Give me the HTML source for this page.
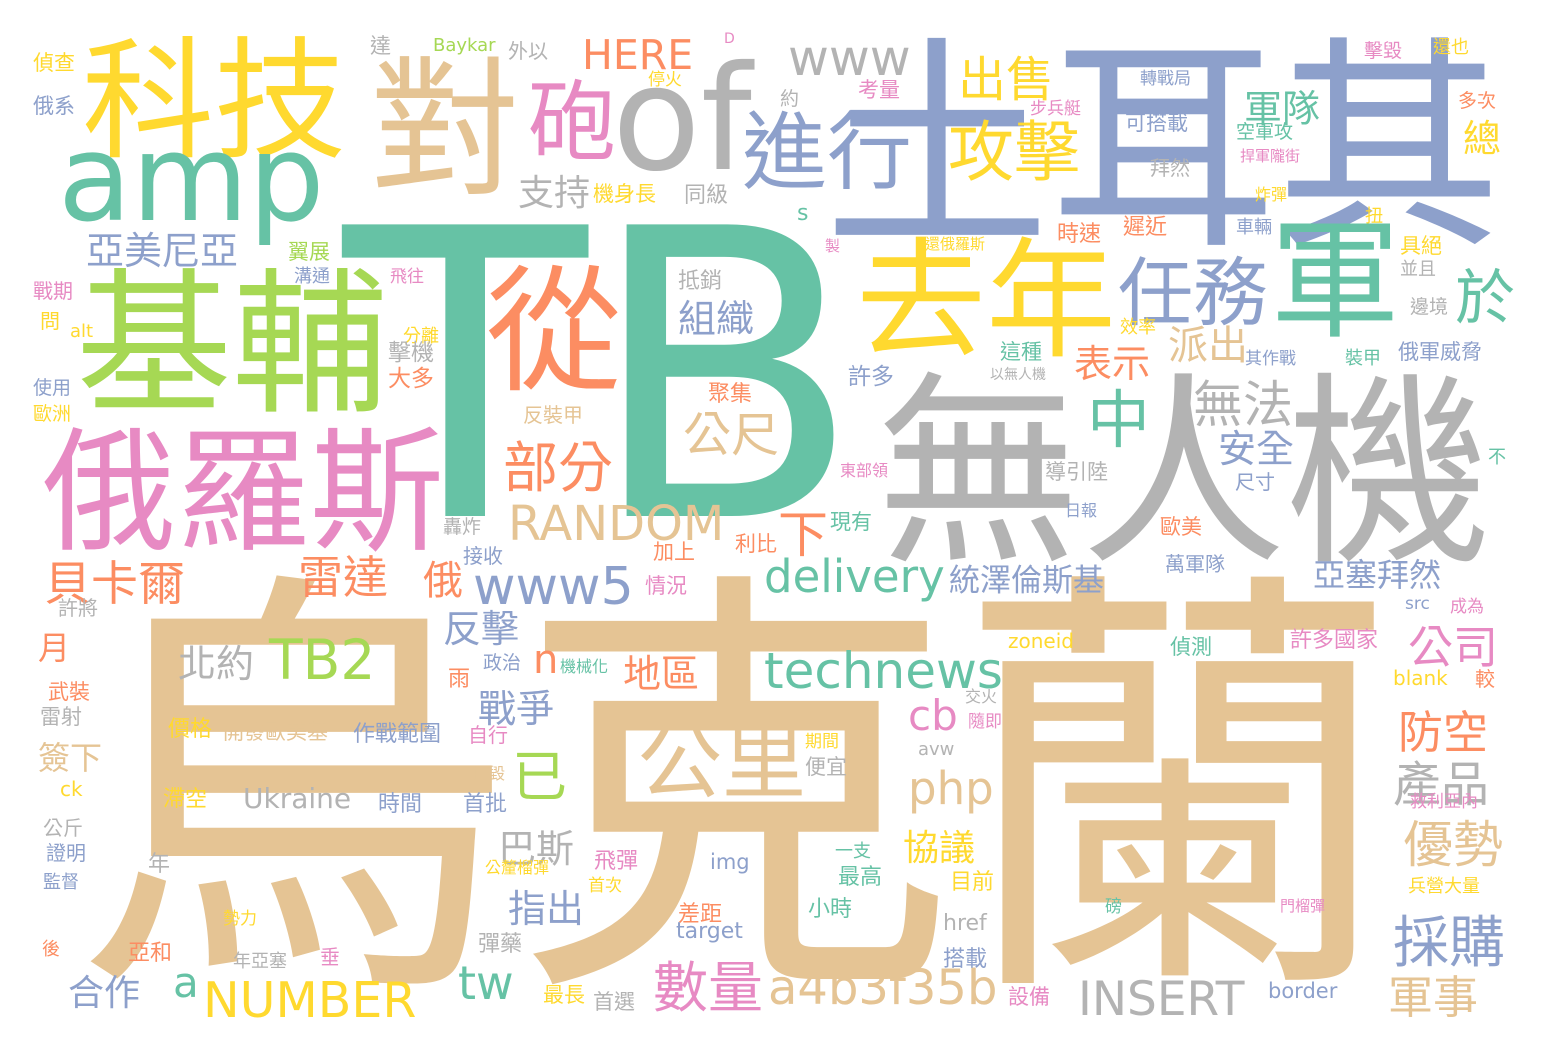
<!DOCTYPE html>
<html>
<head>
<meta charset="utf-8">
<style>
html,body{margin:0;padding:0;background:#fff;}
#cloud{position:relative;width:1548px;height:1052px;overflow:hidden;background:#fff;}
#cloud span{position:absolute;line-height:1;white-space:nowrap;}
.cjk{font-family:"Noto Sans CJK TC","Liberation Sans",sans-serif;}
.lat{font-family:"DejaVu Sans","Liberation Sans",sans-serif;}
</style>
</head>
<body>
<div id="cloud"></div>
<script>
// Set2 palette
var C = {t:"#66c2a5",o:"#fc8d62",b:"#8da0cb",p:"#e78ac3",g:"#a6d854",y:"#ffd92f",n:"#e5c494",r:"#b3b3b3"};
// words: [text, left, top(css), fontSize, colorKey, latin?]
var words = [
["烏克蘭",72,535,442,"n",0],
["TB",343,179,400,"t",1],
["無人機",876,354,205,"r",0],
["土耳其",824,17,226,"b",0],
["俄羅斯",42,414,134,"p",0],
["基輔",76,253,156,"g",0],
["科技",82,25,132,"y",0],
["對",370,43,150,"n",0],
["of",612,47,145,"r",1],
["amp",58,120,120,"t",1],
["從",486,253,136,"o",0],
["砲",528,72,88,"p",0],
["去年",856,225,130,"y",0],
["軍",1270,205,130,"t",0],
["進行",742,103,85,"b",0],
["出售",958,51,48,"y",0],
["攻擊",948,114,66,"y",0],
["任務",1118,249,75,"b",0],
["於",1455,264,60,"t",0],
["中",1087,384,63,"t",0],
["無法",1193,376,50,"r",0],
["派出",1168,322,40,"n",0],
["表示",1074,342,38,"o",0],
["軍隊",1244,87,38,"t",0],
["安全",1218,427,38,"b",0],
["總",1463,117,38,"y",0],
["www",788,33,50,"r",1],
["HERE",582,35,41,"o",1],
["支持",518,172,36,"r",0],
["亞美尼亞",86,229,38,"b",0],
["部分",503,436,55,"o",0],
["公尺",683,406,48,"n",0],
["組織",678,297,38,"b",0],
["RANDOM",508,500,48,"n",1],
["貝卡爾",44,556,47,"o",0],
["雷達",298,551,45,"o",0],
["俄",423,557,40,"o",0],
["www5",473,561,52,"b",1],
["下",778,506,50,"o",0],
["delivery",764,554,45,"t",1],
["統澤倫斯基",949,562,31,"b",0],
["亞塞拜然",1313,557,32,"b",0],
["北約",178,642,38,"r",0],
["TB2",269,633,55,"g",1],
["反擊",443,607,38,"b",0],
["n",533,640,40,"o",1],
["公里",638,714,84,"n",0],
["地區",623,652,38,"o",0],
["technews",764,646,50,"t",1],
["公司",1408,621,45,"p",0],
["已",512,745,55,"g",0],
["戰爭",478,687,38,"b",0],
["防空",1398,706,45,"o",0],
["產品",1393,756,48,"r",0],
["優勢",1403,816,50,"n",0],
["採購",1393,911,56,"b",0],
["軍事",1388,971,45,"n",0],
["cb",908,695,42,"p",1],
["php",908,766,45,"n",1],
["協議",903,827,36,"y",0],
["巴斯",498,827,38,"r",0],
["指出",508,887,38,"b",0],
["數量",653,956,55,"p",0],
["a4b3f35b",768,964,48,"n",1],
["INSERT",1078,976,47,"r",1],
["NUMBER",203,976,49,"y",1],
["a",173,962,42,"t",1],
["tw",458,960,46,"t",1],
["合作",68,972,36,"b",0],
["Ukraine",243,785,28,"r",1],
["偵查",33,52,21,"y",0],["俄系",33,95,21,"b",0],["戰期",33,280,20,"p",0],["問",40,310,20,"y",0],
["使用",33,377,19,"b",0],["歐洲",33,403,19,"y",0],["alt",70,323,18,"y",1],["分離",403,326,18,"y",0],
["飛往",390,266,17,"p",0],["翼展",288,241,21,"g",0],["溝通",294,266,18,"b",0],["擊機",388,339,23,"r",0],
["大多",388,365,23,"o",0],["轟炸",443,516,19,"r",0],["接收",463,545,20,"b",0],["反裝甲",523,404,20,"n",0],
["聚集",708,381,22,"o",0],["抵銷",678,268,22,"r",0],["達",370,35,21,"r",0],["Baykar",433,37,18,"g",1],
["外以",508,40,20,"r",0],["D",724,32,14,"p",1],["停火",648,69,17,"y",0],["約",780,88,19,"r",0],
["考量",858,79,21,"p",0],["步兵艇",1030,98,17,"p",0],["轉戰局",1140,68,17,"b",0],["擊毀",1364,40,19,"p",0],
["還也",1433,37,18,"y",0],["多次",1458,90,19,"o",0],["可搭載",1125,112,21,"b",0],["空軍攻",1236,121,19,"t",0],
["捍軍隴街",1240,148,15,"p",0],["拜然",1150,157,20,"r",0],["機身長",593,183,21,"y",0],["同級",684,182,22,"r",0],
["s",797,203,22,"t",1],["製",825,238,15,"p",0],["炸彈",1255,185,16,"y",0],["扭",1365,206,18,"y",0],
["遲近",1123,214,22,"o",0],["時速",1057,221,22,"o",0],["車輛",1236,217,18,"b",0],["還俄羅斯",925,236,15,"y",0],
["具絕",1400,235,21,"y",0],["並且",1400,259,18,"r",0],["邊境",1410,296,19,"r",0],["效率",1120,317,18,"y",0],
["這種",1000,341,21,"t",0],["其作戰",1245,348,17,"b",0],["裝甲",1345,348,18,"t",0],["俄軍威脅",1398,341,21,"b",0],
["許多",848,363,23,"b",0],["以無人機",990,367,14,"r",0],["東部領",840,461,16,"p",0],["導引陸",1045,461,21,"r",0],
["尺寸",1235,471,20,"b",0],["不",1488,447,18,"t",0],["日報",1065,501,16,"b",0],["歐美",1160,516,21,"o",0],
["現有",830,511,21,"t",0],["利比",735,533,21,"o",0],["加上",653,541,21,"o",0],["情況",645,575,21,"p",0],
["萬軍隊",1165,553,20,"b",0],["許將",58,597,20,"r",0],["src",1405,596,17,"b",1],["成為",1450,596,17,"p",0],
["月",38,630,32,"o",0],["許多國家",1290,627,22,"p",0],["偵測",1170,636,21,"t",0],["zoneid",1008,631,20,"y",1],
["政治",483,652,19,"b",0],["機械化",560,657,16,"t",0],["雨",448,666,22,"o",0],["blank",1393,668,20,"y",1],
["較",1475,668,20,"o",0],["武裝",48,681,21,"o",0],["雷射",40,706,21,"r",0],["交火",965,687,16,"r",0],
["價格",168,716,22,"y",0],["開發歐美基",223,721,21,"n",0],["作戰範圍",353,721,22,"b",0],["自行",468,724,20,"p",0],
["隨即",968,711,17,"p",0],["期間",805,731,17,"y",0],["avw",918,741,18,"r",1],["簽下",38,740,32,"n",0],
["便宜",805,756,21,"r",0],["推毀",473,764,16,"n",0],["ck",60,779,20,"y",1],["滯空",163,786,22,"y",0],
["時間",378,791,22,"b",0],["首批",463,791,22,"b",0],["救利亞內",1410,791,17,"p",0],["公斤",43,817,20,"r",0],
["證明",46,842,20,"b",0],["監督",43,872,18,"b",0],["年",148,851,22,"r",0],["飛彈",594,848,22,"p",0],
["首次",588,875,17,"y",0],["公釐榴彈",485,858,16,"y",0],["img",710,852,21,"b",1],["一支",835,841,18,"t",0],
["最高",838,864,22,"t",0],["目前",950,869,22,"y",0],["兵營大量",1408,876,18,"y",0],["小時",808,896,22,"t",0],
["勢力",223,908,17,"y",0],["差距",678,901,22,"o",0],["磅",1105,896,17,"t",0],["門榴彈",1280,898,15,"p",0],
["href",943,913,22,"r",1],["後",42,939,18,"o",0],["亞和",128,940,22,"o",0],["彈藥",478,931,22,"r",0],
["target",676,921,22,"b",1],["垂",320,946,20,"p",0],["年亞塞",233,951,18,"r",0],["搭載",943,946,22,"b",0],
["最長",543,984,21,"y",0],["首選",593,991,21,"r",0],["設備",1008,986,21,"p",0],["border",1268,981,21,"b",1]
];
var cloud = document.getElementById('cloud');
words.forEach(function(w){
  var el = document.createElement('span');
  el.textContent = w[0];
  el.className = w[5] ? 'lat' : 'cjk';
  el.style.left = w[1] + 'px';
  el.style.top = w[2] + 'px';
  el.style.fontSize = w[3] + 'px';
  el.style.color = C[w[4]];
  
  
  cloud.appendChild(el);
});
</script>
</body>
</html>
